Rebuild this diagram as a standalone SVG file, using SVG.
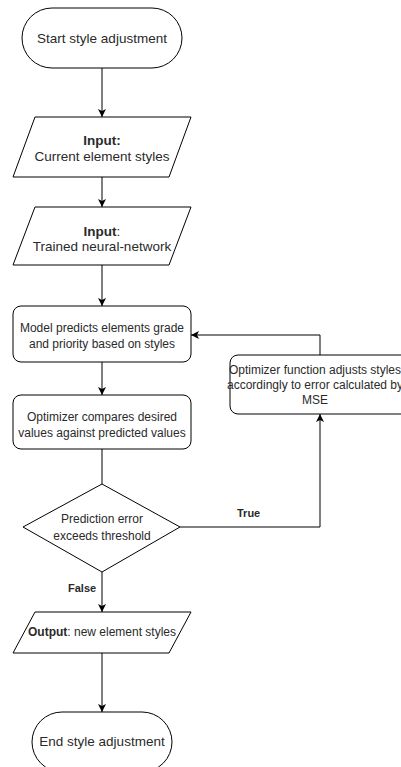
<svg xmlns="http://www.w3.org/2000/svg" width="401" height="767" viewBox="0 0 401 767">
<defs>
<marker id="arr" viewBox="0 0 10 10" refX="10" refY="5" markerWidth="8" markerHeight="8" markerUnits="userSpaceOnUse" orient="auto">
<path d="M0,0 L10,5 L0,10 L2.5,5 z" fill="#000"/>
</marker>
<style>
.shape{fill:#fff;stroke:#000;stroke-width:1}
.t{font-family:"Liberation Sans",Arial,sans-serif;font-size:12px;fill:#2a2a2a;text-anchor:middle}
.big{font-size:13.5px}
.b{font-weight:bold}
.conn{fill:none;stroke:#000;stroke-width:1}
.lbl{font-family:"Liberation Sans",Arial,sans-serif;font-size:11px;font-weight:bold;fill:#2a2a2a}
</style>
</defs>
<rect width="401" height="767" fill="#fff"/>
<g id="connectors">
<path class="conn" d="M102,68 V117" marker-end="url(#arr)"/>
<path class="conn" d="M102,177 V207" marker-end="url(#arr)"/>
<path class="conn" d="M102,265 V306" marker-end="url(#arr)"/>
<path class="conn" d="M102,362 V395" marker-end="url(#arr)"/>
<path class="conn" d="M102,449 V484"/>
<path class="conn" d="M180,527 H320 V414" marker-end="url(#arr)"/>
<path class="conn" d="M320,355 V335 H191" marker-end="url(#arr)"/>
<path class="conn" d="M102,572 V612" marker-end="url(#arr)"/>
<path class="conn" d="M102,653 V712" marker-end="url(#arr)"/>
<text class="lbl" x="237" y="517">True</text>
<text class="lbl" x="68" y="592">False</text>
</g>
<g id="start">
<rect class="shape" x="22" y="8" width="160" height="60" rx="30" ry="30"/>
<text class="t big" x="102" y="43">Start style adjustment</text>
</g>
<g id="input1">
<polygon class="shape" points="35,117 191,117 169,177 13,177"/>
<text class="t big b" x="102" y="145">Input:</text>
<text class="t big" x="102" y="161">Current element styles</text>
</g>
<g id="input2">
<polygon class="shape" points="35,207 191,207 169,265 13,265"/>
<text class="t big" x="102" y="236"><tspan class="b">Input</tspan>:</text>
<text class="t big" x="102" y="251">Trained neural-network</text>
</g>
<g id="model">
<rect class="shape" x="13" y="306" width="178" height="56" rx="8" ry="8"/>
<text class="t" x="102" y="332">Model predicts elements grade</text>
<text class="t" x="102" y="348">and priority based on styles</text>
</g>
<g id="compare">
<rect class="shape" x="13" y="395" width="178" height="54" rx="8" ry="8"/>
<text class="t" x="102" y="421">Optimizer compares desired</text>
<text class="t" x="102" y="437">values against predicted values</text>
</g>
<g id="decision">
<polygon class="shape" points="102,484 180,527 102,572 23,527"/>
<text class="t" x="102" y="523">Prediction error</text>
<text class="t" x="102" y="540">exceeds threshold</text>
</g>
<g id="optimizer">
<rect class="shape" x="230" y="355" width="180" height="59" rx="8" ry="8"/>
<text class="t" x="315" y="374">Optimizer function adjusts styles</text>
<text class="t" x="315" y="389">accordingly to error calculated by</text>
<text class="t" x="315" y="404">MSE</text>
</g>
<g id="output">
<polygon class="shape" points="35,612 191,612 169,653 13,653"/>
<text class="t" x="102" y="636"><tspan class="b">Output</tspan>: new element styles</text>
</g>
<g id="end">
<rect class="shape" x="32" y="712" width="140" height="60" rx="30" ry="30"/>
<text class="t big" x="102" y="746">End style adjustment</text>
</g>
</svg>
